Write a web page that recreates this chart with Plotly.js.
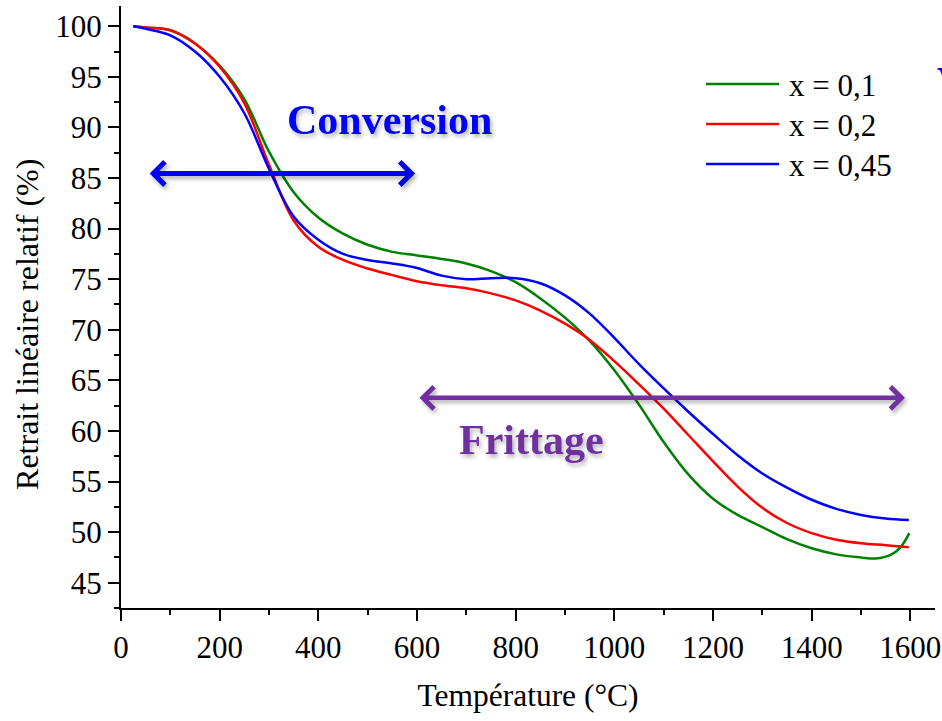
<!DOCTYPE html>
<html>
<head>
<meta charset="utf-8">
<script src="https://cdn.plot.ly/plotly-3.0.1.min.js"></script>
<style>html,body{margin:0;padding:0;background:#fff;}#chart{width:942px;height:721px;}</style>
</head>
<body>
<div id="chart"></div>
<script>
// ---- Data ----
const seriesNames = ['x = 0,1', 'x = 0,2', 'x = 0,45'];
const seriesColors = ['#008000', '#FF0000', '#0000FF'];

const tempX01 = [25, 50, 100, 150, 200, 250, 300, 350, 400, 450, 500, 550, 600, 650, 700, 750, 800, 850, 900, 950, 1000, 1050, 1100, 1150, 1200, 1250, 1300, 1350, 1400, 1450, 1500, 1530, 1560, 1580, 1598];
const retraitX01 = [100, 99.87, 99.6, 98.3, 96.1, 92.8, 87.6, 83.6, 81.1, 79.5, 78.4, 77.7, 77.35, 77.0, 76.55, 75.8, 74.7, 73.1, 71.2, 68.9, 66.0, 62.6, 58.9, 55.7, 53.3, 51.7, 50.5, 49.3, 48.4, 47.8, 47.5, 47.4, 47.75, 48.5, 49.9];

const tempX02 = [25, 50, 100, 150, 200, 250, 300, 350, 400, 450, 500, 550, 600, 650, 700, 750, 800, 850, 900, 950, 1000, 1050, 1100, 1150, 1200, 1250, 1300, 1350, 1400, 1450, 1500, 1550, 1597];
const retraitX02 = [100, 99.87, 99.6, 98.3, 96.0, 92.4, 86.3, 80.8, 78.2, 76.9, 76.05, 75.4, 74.8, 74.4, 74.1, 73.6, 72.9, 71.9, 70.6, 69.0, 66.9, 64.6, 62.2, 59.6, 57.0, 54.5, 52.4, 50.9, 49.9, 49.25, 48.9, 48.7, 48.5];

const tempX045 = [25, 50, 100, 150, 200, 250, 300, 350, 400, 450, 500, 550, 600, 650, 700, 750, 800, 850, 900, 950, 1000, 1050, 1100, 1150, 1200, 1250, 1300, 1350, 1400, 1450, 1500, 1550, 1597];
const retraitX045 = [100, 99.75, 99.1, 97.5, 95.0, 91.4, 85.9, 81.2, 78.9, 77.5, 76.9, 76.55, 76.1, 75.35, 75.0, 75.1, 75.1, 74.6, 73.4, 71.6, 69.2, 66.6, 64.2, 61.9, 59.7, 57.6, 55.8, 54.4, 53.2, 52.3, 51.7, 51.35, 51.2];

const xTickVals = [0, 200, 400, 600, 800, 1000, 1200, 1400, 1600];
const yTickVals = [45, 50, 55, 60, 65, 70, 75, 80, 85, 90, 95, 100];

// Annotated ranges (double arrows)
const conversionRange = [55, 596];
const conversionLevel = 85.45;
const frittageRange = [602, 1589];
const frittageLevel = 63.27;

// ---- Build ----
const FONT = '"Liberation Serif", "Times New Roman", serif';
const xs = [tempX01, tempX02, tempX045];
const ys = [retraitX01, retraitX02, retraitX045];

const traces = xs.map((x, i) => ({
  type: 'scatter', mode: 'lines', name: seriesNames[i],
  x: x, y: ys[i],
  line: {color: seriesColors[i], width: 2.5, shape: 'spline', smoothing: 1},
  showlegend: false, hoverinfo: 'skip'
}));

// custom legend (long line samples like the reference)
const legendRowsY = [0.8704, 0.804, 0.7375];
const shapes = [];
const annotations = [];
const shadowIdx = [];
seriesNames.forEach((n, i) => {
  shapes.push({type: 'line', xref: 'paper', yref: 'paper', x0: 0.7187, x1: 0.8084,
    y0: legendRowsY[i], y1: legendRowsY[i], line: {color: seriesColors[i], width: 2.5}});
  annotations.push({xref: 'paper', yref: 'paper', x: 0.818, y: legendRowsY[i] - 0.002,
    xanchor: 'left', yanchor: 'middle', text: n, showarrow: false,
    font: {family: FONT, size: 31, color: '#000'}});
});

function doubleArrow(range, level, color, width, size) {
  shadowIdx.push(annotations.length);
  annotations.push({x: range[1], y: level, ax: range[0], ay: level,
    xref: 'x', yref: 'y', axref: 'x', ayref: 'y', text: '', showarrow: true,
    arrowside: 'end+start', arrowhead: 4, startarrowhead: 4, arrowsize: size, startarrowsize: size,
    arrowwidth: width, arrowcolor: color, standoff: 0, startstandoff: 0});
}
doubleArrow(conversionRange, conversionLevel, '#0000FF', 5, 0.9);
doubleArrow(frittageRange, frittageLevel, '#7030A0', 4.5, 0.95);

function boldLabel(text, x, y, color) {
  shadowIdx.push(annotations.length);
  annotations.push({x: x, y: y, xref: 'x', yref: 'y', text: '<b>' + text + '</b>', showarrow: false,
    font: {family: FONT, size: 42, color: color}});
}
boldLabel('Conversion', 545, 90.75, '#0000FF');
boldLabel('Frittage', 833, 59.1, '#7030A0');

// y-axis title (placed like the reference, a bit below the plot centre)
annotations.push({xref: 'paper', yref: 'paper', x: -0.1155, y: 0.4718, xanchor: 'center', yanchor: 'middle',
  text: 'Retrait linéaire relatif (%)', textangle: -90, showarrow: false,
  font: {family: FONT, size: 32, color: '#000'}});

// partly visible text at the right edge of the reference
annotations.push({xref: 'paper', yref: 'paper', x: 0.9995, y: 0.915, xanchor: 'left', yanchor: 'top',
  text: '<b>V</b>', showarrow: false, font: {family: FONT, size: 42, color: '#0000FF'}});

const layout = {
  width: 942, height: 721,
  margin: {l: 121, r: 7, t: 6, b: 113},
  paper_bgcolor: '#fff', plot_bgcolor: '#fff',
  font: {family: FONT, size: 31, color: '#000'},
  showlegend: false,
  xaxis: {
    range: [0, 1650], tickvals: xTickVals, ticktext: xTickVals.map(String),
    showgrid: false, zeroline: false, showline: true, linecolor: '#000', linewidth: 2,
    ticks: 'outside', ticklen: 11, tickwidth: 2, tickcolor: '#000',
    minor: {ticks: 'outside', ticklen: 5, tickwidth: 2, tickcolor: '#000', dtick: 100, tick0: 0, showgrid: false},
    tickfont: {family: FONT, size: 31, color: '#000'},
    title: {text: 'Température (°C)', font: {family: FONT, size: 31.5, color: '#000'}, standoff: 20}
  },
  yaxis: {
    range: [42.5, 102], tickvals: yTickVals, ticktext: yTickVals.map(String),
    showgrid: false, zeroline: false, showline: true, linecolor: '#000', linewidth: 2,
    ticks: 'outside', ticklen: 11, tickwidth: 2, tickcolor: '#000',
    minor: {ticks: 'outside', ticklen: 5, tickwidth: 2, tickcolor: '#000', dtick: 2.5, tick0: 42.5, showgrid: false},
    tickfont: {family: FONT, size: 31, color: '#000'}
  },
  shapes: shapes,
  annotations: annotations
};

Plotly.newPlot('chart', traces, layout, {displayModeBar: false, staticPlot: true}).then(gd => {
  // soft drop shadow on the two labels and arrows, as in the reference
  shadowIdx.forEach(i => {
    const g = gd.querySelector('.annotation[data-index="' + i + '"]');
    if (g) g.style.filter = 'drop-shadow(2px 3px 2px rgba(0,0,0,0.3))';
  });
});
</script>
</body>
</html>
